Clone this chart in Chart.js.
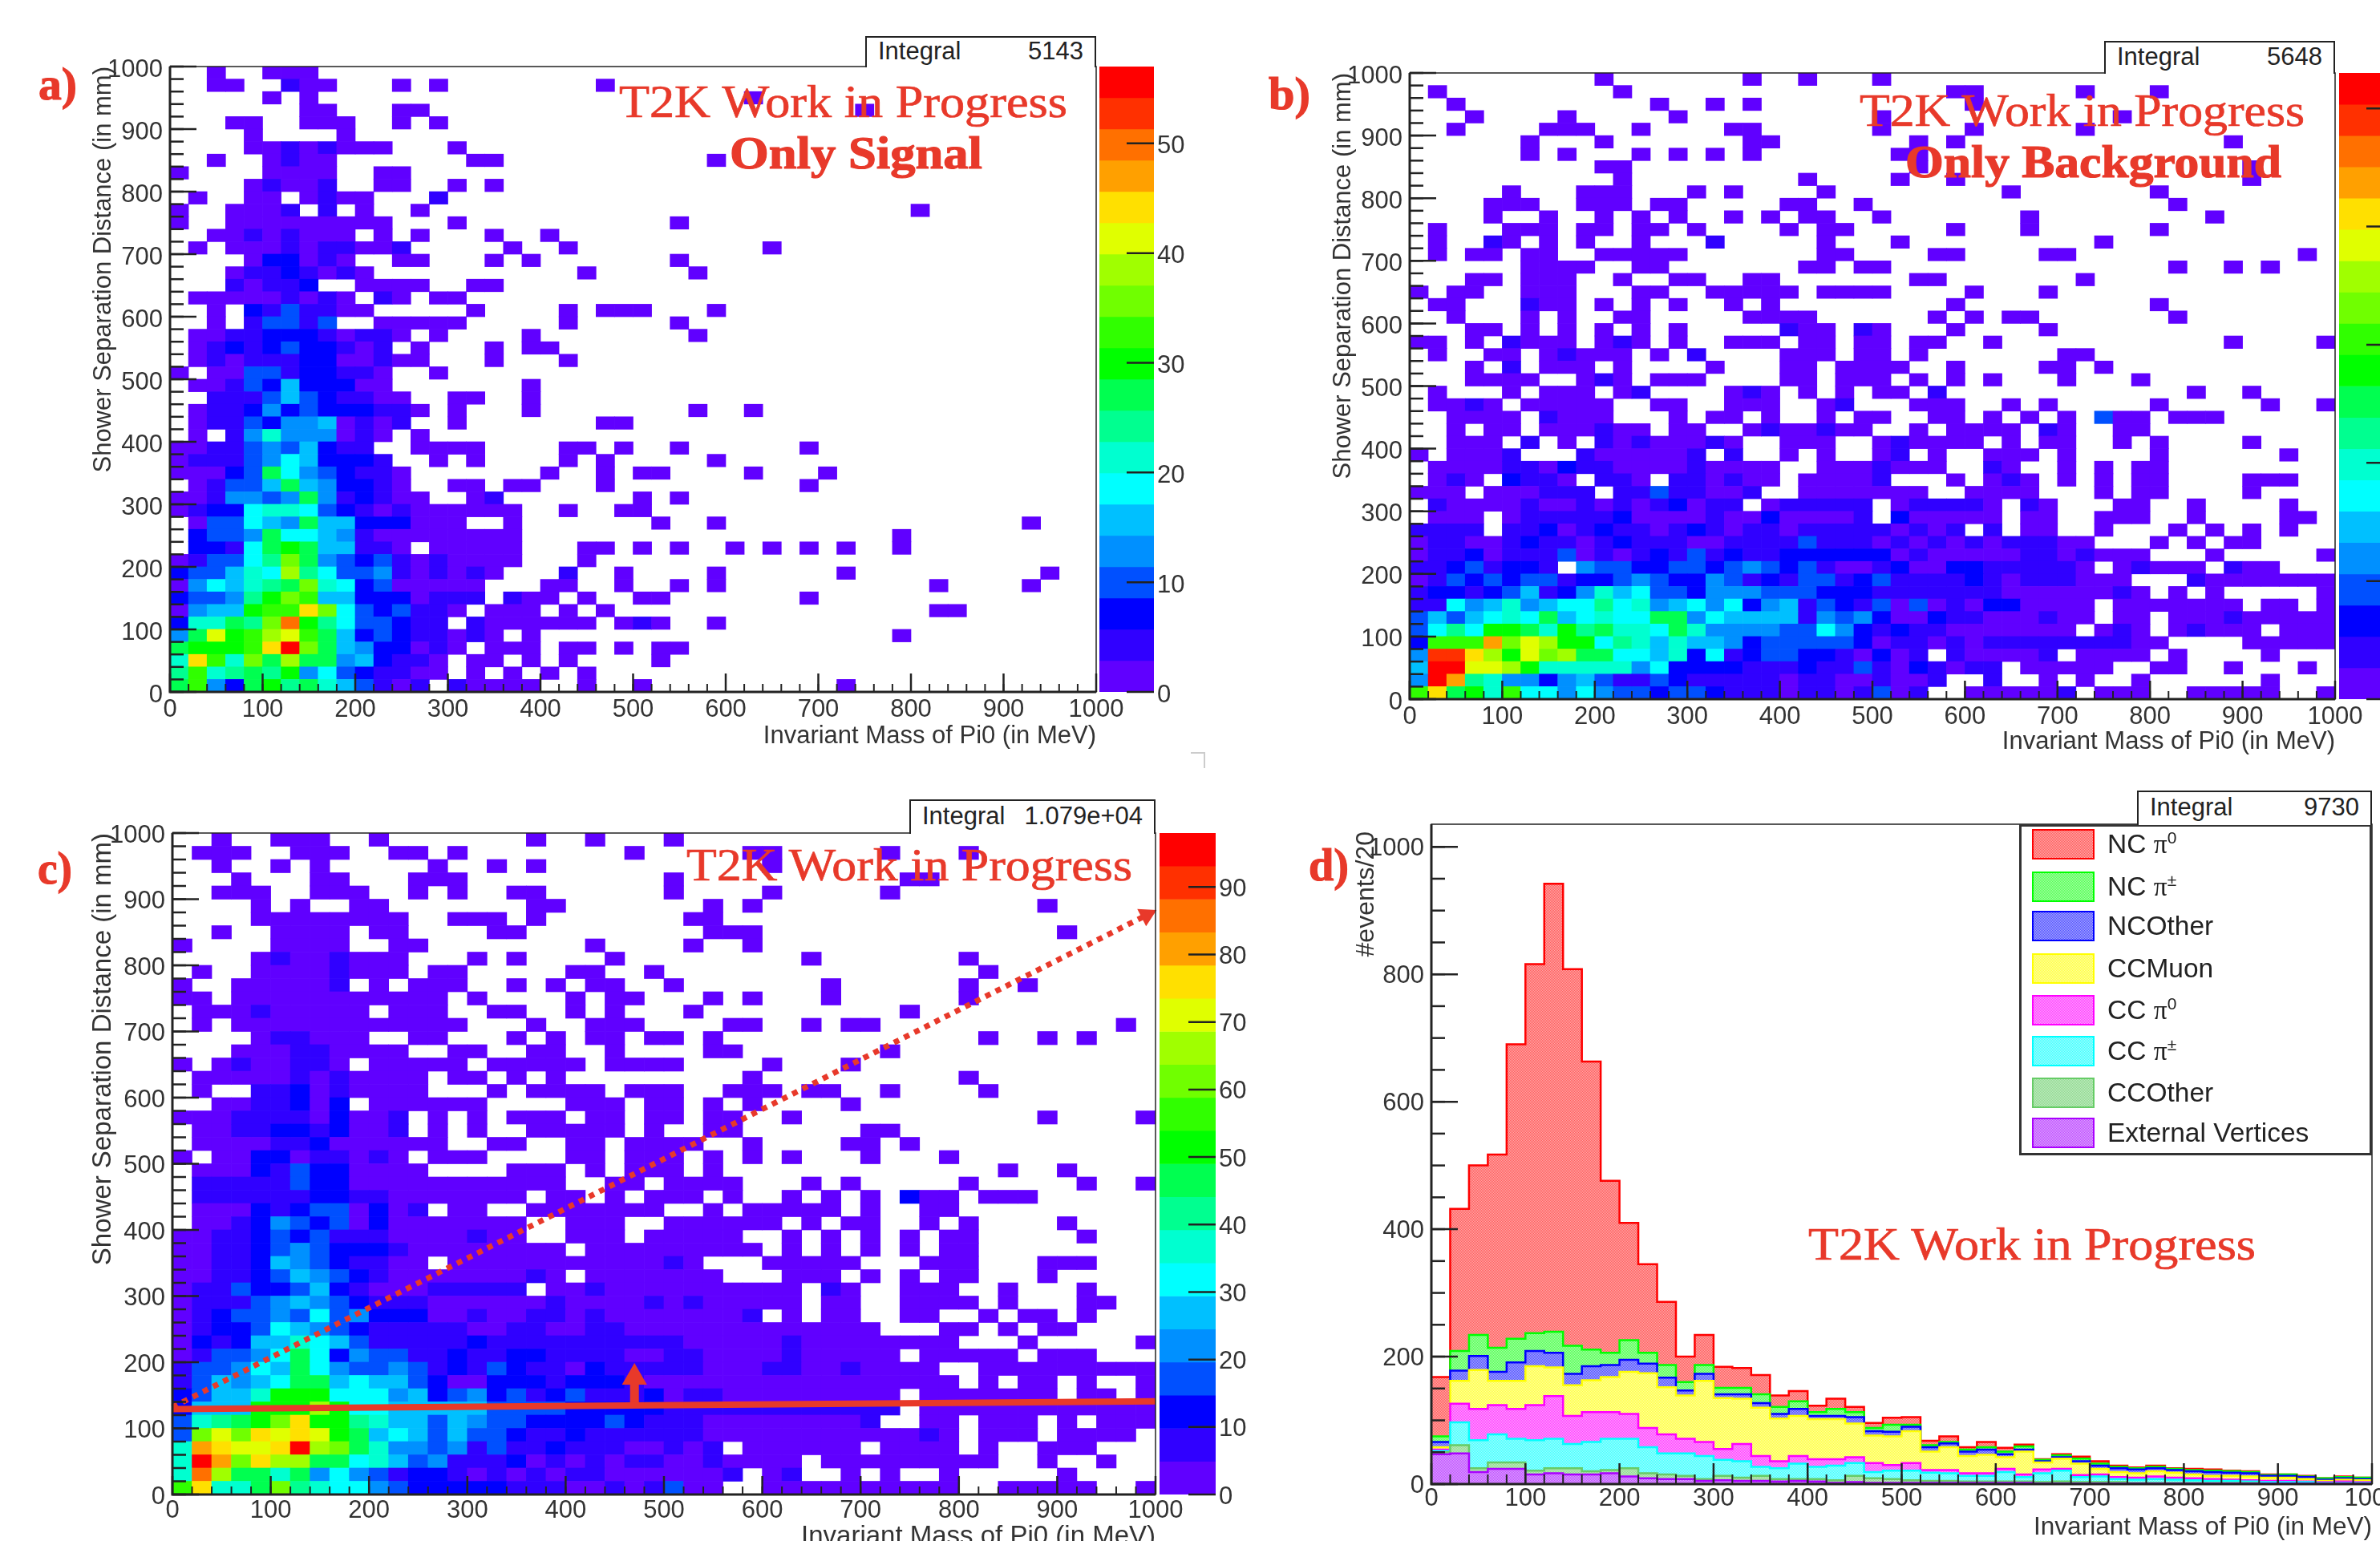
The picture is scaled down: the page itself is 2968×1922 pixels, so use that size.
<!DOCTYPE html>
<html><head><meta charset="utf-8">
<style>
html,body{margin:0;padding:0;background:#fff;width:2968px;height:1922px;overflow:hidden;position:relative}
canvas{position:absolute;filter:blur(0.7px)}
.txt{position:absolute;white-space:nowrap;transform-origin:left center;line-height:1;color:#e8392a;font-family:"Liberation Serif",serif;z-index:5}
.stat{position:absolute;box-sizing:border-box;border:2px solid #222;border-bottom:0;background:#fff;display:flex;justify-content:space-between;align-items:center;padding:0 14px 4px;font:31px "Liberation Sans",sans-serif;color:#222;z-index:4}
.legend{position:absolute;box-sizing:border-box;border:3px solid #333;background:#fff;z-index:4;filter:blur(0.5px)}
.lrow{position:absolute;font:33.5px "Liberation Sans",sans-serif;color:#222;white-space:nowrap;line-height:1}
.lrow sup{font-size:21px;line-height:0}
.lrow i{font-family:"Liberation Serif",serif;font-style:normal}
.sw{position:absolute;box-sizing:border-box;border:2px solid}
</style>
<script src="https://cdn.jsdelivr.net/npm/chart.js@4"></script>
</head><body>
<script>
// --- Colour contour levels of each 2-D histogram, top row (980-1000 mm) first, 50 bins of 20 MeV.
// '.' = empty bin, 0-9 a-j = contour level 0-19
const heatRowsA = [
"..0.. 000..","..00. .100. ..0.0 ..... ...0.","..... 0.0.. ..... ..... ..... ..... .0...","..... ..00. ..00. ..... ..... ..... ..... ..0..",
"...00 ..000 ..0.0","....0 ....0","....0 01010 00... 0....","..0.. 0100. ..... .00.. ..... ....0","0.... 0000. .00..","....0 1001. .00.. 0.0..",
".0..0 0.010 0...1","0..00 01.1. 0..0. ..... ..... ..... ..... ..... 0....","0..00 00000 00... 0.... ..... ..0..","..001 01000 .0.0. ..0.. 0....",
".0.00 01011 001.. ...0. .0... ..... ..0..","....0 22010 ..00. ..0.0 ..... ..0..","...01 12101 0.... ..... ..0.. ...0.","...10 112.. 0000. .00..",
".0000 01010 .10.0 0....","..0.2 13110 0.... .0... .0.00 0...0","..0.1 3313. .0000 0.... .0... ..0..",".0011 22210 110.0 ....0 ..... ...0.",".0121 23221 01.0. ..0.0 0....",
".0101 11220 0100. ..0.. .0...","0.003 31221 10..0",".0013 25222 00... ....0","..111 35321 100.. 00..0",".0112 42322 2110. 0...0 ..... ...0. .0...",".0113 24450 101.. 0.... ...00",
".0.14 74440 10.0.","00113 43521 1..00 00... .00.0 ..0.. ....0","01113 46522 21..0 .0... .0.0. ....0","00023 96432 110.. ..... 0..0. 00... .0... 0....",
".0133 59542 210.. 00.00 ...0. ..... ....0","00144 34941 2100. .01.. ..... 0.0..","01226 77632 10100 0000. .0..0 0....",".0336 54955 22200 0..0. ..... .0..0 ..... ..... ..... .0...",
".2334 96654 10000 0000. ..... ..... ..... ....0",".2216 9a955 110.0 0000. ..00. 0.0.. 0.0.0 .0..0","01336 8c943 23101 0000. ..0..","23357 6d863 34101 010.. .1..0 ....0 ..... .0... ..... ..0..",
"04657 89c76 23000 00... 00..0 ..0.0 ..... ..... .0... .0...","23348 acb55 22201 11.10 0.0.. 00... ....0","0455a bbfc6 32311 0.000 .0.0. ..... ..... ..... .00..",
"27798 cha86 33211 .1000 000.0 10..0","49eab deb95 23211 010.0 ..... ..... ..... ....0","9aaab fjc95 42201 0.000 .00.0 .00..","7fb7c 9d994 52110 .00.0 .0... .0...",
"8b789 8a463 21100 .0.0. 0.0..","9b429 a8975 3101. 10000 ..0.. 0.... ..... .0..."];
const heatRowsB = [
"..... ..... 0.... ...0. .0... 0....",".0... ..... .0... ..... ..... ....0 0.... .0... 0....","..0.. ..... ...0. .0.0. ..... ..... 0....","...0. ...0. ....0 ..... ..... 0.... ..... ...0.",
"..0.. ..000 ..0.. ..00. ..... 0.... 0.... .0...","..... .0... 0.... ...00 ..... ..0.0 ..... ..... ....0","..... .0.0. ..0.0 .0.0. ..... .00..","..... ..... 00... ..... ..... ..0.. ..... ..... ..... 0....",
"..... ..... .0... ..... .0... .0..0 ..... ..... ..... 0....","..... 0...0 00... 0.0.. ..0.. ..... ..0.. ..... 0....","....0 00..0 00.00 ..... 00..0 ..... ..... ..... .0...","....0 ..0.. 0.0.0 ..0.0 .00.. 0.... ...0. ..... ...0.",
".0... 000.0 0.00. 0.... 0.00. ....0 ...0. ..... 0....",".0..1 0.0.0 ..0.. .1... ..0.. .0... ..... ..0..",".0.00 .00.. 00000 ..... ..00. ...00 ....0 0.... ..... ...0.","..... .0000 ..00. ..... .00.0 0.... ..... ..... .0..0 .0...",
"...00 .000. .0..0 0..00 ..... ..00. ..... .0...","0.00. .000. ..00. .0000 0.000 0.... 0...0",".00.. .100. 0.0.0 ..0.0 ..... ....0 ..... ..... 0....","..0.. .0.0. .00.. ...00 00... ...0. 0.00. ..... .0...",
"...00 .0.0. 0.0.0 ..... 100.1 0...0 ....0","00.0. 1000. 010.0 ..000 .00.0 0.00. .0... ..... ....0 ....0",".0..0 0.010 00.0. 1.... 000.0 0.0.. ..... 00...","...0. 1.000 .0... .0... 00.00 00..0 ....0 0.0..",
"...00 00..0 10.00 0.... 00.00 0.0.0 .0... 0...0",".0... 0.000 .01.. ..010 .0.0. 00.1. ..... ..... ..0.. 0....",".0010 .0000 0..00 ..000 ..01. ..000 ..0.0 ..... 0.... .0..0","..000 0.100 0...0 .00.0 ..0.0 0..00 .0.0. 0.300 .000.",
"..0.0 0.000 100.0 0..01 00100 ..0.0 000.1 0..00","..000 .1.0. 10100 010.. 000.. 01000 0.0.0 0..0. 0.... 0....","0.000 1...1 00000 1.1.. 0.0.. 01.0. .000. 0.... 0.... ..0..",".0000 11021 10000 10000 ..000 1000. .10.. 0.0.0 0....",
".010. 2110. 110.1 10100 .0000 1...0 .010. 0.0.0 0.... 000..","000.0 00111 .1131 1001. .0000 000.. 0000. ..0.0 0.... 0....",".1000 01001 01012 011.0 11111 .0111 10.10 ...00 ..0.. ..0..",".000. 01111 12000 01002 00001 .2000 00.00 ..000 ..0.. ..00.",
"1111. 11201 21101 21011 01111 10101 .1.00 ..0.. .0.0. 0.0..","01100 12110 12111 00111 13111 01010 10111 00... 0.0.0 0....","01120 11130 10121 31211 22222 20100 00011 01000 ...0. ....0","11231 221.4 33223 32343 23100 12002 21111 10.01 000.1 00...",
"01323 23312 23432 24312 13312 31111 21011 1000. ..100 00000","12212 35124 75633 24443 33222 11111 11000 00010 .0.0. ....0","11645 74566 86745 64624 51321 30301 02200 00.00 00000 .00.0","35356 76956 76699 46555 51434 20021 10001 00.00 .0001 00000",
"3686a a97a8 97769 74444 33642 12110 00000 0.010 .0100 0.000","2bbbg cedaa 68757 55423 33332 01101 01111 11110 0.... 00000","4iifd aecd9 96657 26123 32210 201.1 00001 .0000 .0... .0...","5jjee da777 77462 22211 12113 10210 11.00 000.. 00..0 ...0.",
"4jg87 44245 31132 11111 01100 1001. .1..0 .0..0 ..... .0...","bf9a7 b6646 43323 32111 01101 301.. 00000 1.000 ..000 00..0"];
const heatRowsC = [
"..0.. 000.. 0.... ...0. .0... 0....",".000. .000. .00.0 ..... ...0. ....0 0.... .0... 0....","..0.. 0.0.. ...0. .0.0. ..... ..... 0....","...0. ..00. ..000 ..... ..... 0.... ..... ..00.",
"..000 ..000 ..0.0 ..00. ..... 0.... 0.... .0...","....0 .0..0 0.... ...00 ..... ..0.0 ..... ..... ....0","....0 00000 00..0 00.0. ..... .00..","..0.. 0000. 00... .00.. ..... ..000 ..... ..... ..... 0....",
"0.... 0000. .00.. ..... .0... .0..0","....0 10010 00... 0.0.. ..0.. ..... ..0.. ..... 0....",".0..0 00010 00.00 ..... 00..0 ..... ..... ..... .0...","0..00 0001. 0.000 ..0.0 .00.. 0.... ...0. ..... 0..0.",
"00.00 00000 0000. 0.... 0.00. ..0.0 ...0. ..... 0....",".0001 00000 .000. .00.. 0.0.. .0... ..... ..0..",".0.00 00000 00000 ...0. .000. ...00 ..0.0 0.... ..... ...0.","....0 11000 ..00. ..0.0 .00.0 0.0.. ..... ..... .0..0 .0...",
"...00 01100 00..0 0..00 ..0.. ..00. ..... .0...","0.010 0110. 00000 .0000 0.000 0.... 0...0",".0000 01010 000.0 0.0.0 ..... ....0 ..... ..... 0....",".0..1 12010 000.. .0.00 00.00 0..00 0.00. .0... .0...",
"..001 1202. 00000 0.... 000.0 0.0.0 ....0","00011 11020 01.0. 0.000 .00.0 0.00. .0... ..... ....0 ....0",".0011 22120 01.0. 0..00 000.0 ..00. ..... 00...",".0000 11200 0000. .00.. 00.00 00..0 ....0 0.0..",
"0.002 20110 10.00 0.... 00.00 0.0.0 .0... 0...0",".0002 13220 000.. ..000 .0.00 0.0.. ..... ..... ..0.. 0....",".1111 13220 00000 00000 ..00. 0000. ..0.0 ..... 0.... .0..0",".1111 11221 10000 000.0 0.0.0 00.0. .0.0. 0.200 .000.",
".0002 12330 201.0 0..00 00000 ..0.0 0000. 0..00",".0012 43230 20000 000.. 000.. 00000 0.0.0 0..0. 0.... 0....","00112 32311 10000 100.. 000.0 0000. .0.0. 0.0.0 0.... .0...","00112 34322 21000 00000 .0000 00000 .0.0. 0.0.0 0....",
"00112 54321 100.0 00000 00000 10... 00000 ...00 0...0 00...","00112 35432 10000 00010 .0000 000.. .000. 0.0.0 0...0","01132 23521 00011 111.0 01000 00000 00.10 ..000 ..0.. .0...","01113 45432 11100 00001 00001 01000 00.00 ..000 0.0.. .00..",
"01233 43634 22200 10011 01000 00001 .0.00 ..00. .0.00 .0...","01223 65432 11111 00110 01100 00000 00000 0...0 0.0.0 0....","02125 57653 11111 21111 11111 10000 01000 00000 ...0. ....0","01334 69624 33112 11221 11100 11000 01000 00.00 000.0 00...",
"13346 59643 34312 13211 02111 11000 11001 0000. .0000 00000","13545 69956 55320 02221 22210 00000 00000 00000 .0.00 .0..0","23557 aaa66 64523 42312 31112 01100 00000 00.00 00000 .00.0","2555a aada6 65555 53333 22222 11111 11111 11.00 00000 00000",
"3789a cfaa8 75535 43322 22321 11000 00000 1..00 .000. 0.000","3cecf efea9 56535 33211 21111 11000 00000 00010 .000. 0000.","7gfee fjdc9 74434 13112 11100 101.0 00000 .0000 .0..0 00...","7jgcf dd996 75341 11201 01011 00100 00.00 00000 00..0 ..0..",
"7hd99 79464 31221 01010 11000 0001. 01..0 .0..0 ..... 0....","bf779 c8766 43222 22111 00101 300.. 00000 00000 ..000 00..0"];

// Scale maxima of the three colour bars
const heatMaxA = 57, heatMaxB = 53, heatMaxC = 98;
const contourColors = ["#6000ff","#3000ff","#0000ff","#0050ff","#0090ff","#00c0ff","#00ffff","#00ffd0","#00ff90","#00ff50","#00ff00","#30ff00","#70ff00","#a0ff00","#e0ff00","#ffe000","#ffa000","#ff7000","#ff3000","#ff0000"];

// --- Stacked histogram d): cumulative top of each component, 50 bins of 20 MeV
const stackNCpi0   = [168,432,500,517,690,816,942,808,663,476,410,345,286,200,234,184,182,171,139,146,123,134,121,96,104,105,68,75,58,66,57,62,39,47,43,36,29,26,29,25,24,23,21,20,15,15,13,9,12,10];
const stackNCpipm  = [75,209,234,214,228,237,239,217,211,206,226,206,187,160,187,151,151,141,121,130,113,118,113,88,93,93,61,66,54,58,51,59,38,45,40,32,27,25,27,24,22,21,20,19,14,15,12,9,11,10];
const stackNCOther = [66,178,201,176,191,209,206,173,185,187,195,189,167,147,173,141,141,127,110,118,107,107,105,83,82,90,58,64,51,54,47,54,36,42,36,29,25,23,25,22,20,19,18,17,13,13,11,7,9,8];
const stackCCMuon  = [58,162,179,162,162,185,183,155,163,168,176,174,152,139,162,135,134,120,103,107,102,102,95,76,75,83,51,58,44,46,42,51,34,40,32,24,19,17,20,18,15,13,13,12,10,10,8,5,7,6];
const stackCCpi0   = [54,126,118,124,118,124,138,107,113,113,110,88,78,71,66,55,63,44,36,44,39,39,42,33,30,33,22,22,17,17,24,15,23,24,14,15,11,10,12,10,9,8,7,6,5,5,4,3,4,3];
const stackCCpipm  = [52,97,69,78,71,69,71,63,66,71,71,58,48,48,44,38,36,27,25,32,27,29,33,19,21,21,18,17,13,13,19,11,17,21,11,12,8,7,8,7,6,5,5,4,3,3,3,2,2,2];
const stackCCOther = [50,61,25,34,34,21,25,25,20,22,25,17,15,13,8,13,10,13,8,8,8,6,13,9,8,6,5,5,4,4,4,4,3,4,3,3,3,2,2,2,2,2,2,2,1,1,1,1,1,1];
const stackExtVert = [47,48,19,24,24,15,17,15,15,17,12,9,8,8,5,6,5,5,4,5,4,2,3,2,2,2,2,2,2,2,2,2,1,1,1,1,1,1,1,1,1,1,1,1,1,1,1,1,1,1];

// Cut lines drawn on panel c), in axis units
const cutFlat   = [[0,129],[1000,141]];
const cutSlope  = [[0,132],[991,876]];
const cutArrow  = [[470,135],[470,177]];

const massTitle = "Invariant Mass of Pi0 (in MeV)";
const sepTitle  = "Shower Separation Distance (in mm)";
const eventsTitle = "#events/20 ";
const wipText = "T2K Work in Progress";

const RED = "#e8392a", INK = "#333";
const sans = s => ({family:"'Liberation Sans',sans-serif", size:s});
const plainTick = v => String(v);
const multiplesOf = step => s => { const t=[]; for(let v=0;v<=s.max+1e-6;v+=step) t.push({value:v}); s.ticks=t; };

const rootAxes = {
  id:"rootAxes",
  beforeDraw(chart,args,o){
    const s=chart.scales.y;
    if(o.labelDy) s.getLabelItems().forEach(it=>{ it.options.translation=[it.options.translation[0],it.options.translation[1]+o.labelDy]; });
  },
  afterDatasetsDraw(chart,args,o){
    const {ctx,chartArea:a,scales} = chart;
    ctx.save(); ctx.strokeStyle="#222";
    const vert=(vals,len,w)=>{ctx.lineWidth=w;vals.forEach(v=>{const p=scales.x.getPixelForValue(v);ctx.beginPath();ctx.moveTo(p,a.bottom);ctx.lineTo(p,a.bottom-len);ctx.stroke();});};
    const hor=(vals,len,w)=>{ctx.lineWidth=w;vals.forEach(v=>{const p=scales.y.getPixelForValue(v);ctx.beginPath();
      if(o.rightTicks){ctx.moveTo(a.right,p);ctx.lineTo(a.right-len,p);} else {ctx.moveTo(a.left,p);ctx.lineTo(a.left+len,p);} ctx.stroke();});};
    const range=(step,max)=>{const r=[];for(let v=0;v<=max+1e-6;v+=step)r.push(v);return r;};
    if(o.rightTicks){ hor(range(10,scales.y.max),o.barTick,2.5); ctx.restore(); return; }
    vert(range(20,1000),o.xMinorLen,2); vert(range(100,1000),o.xMajorLen,2.5);
    hor(range(o.yMinor,scales.y.max),17,2.5); hor(range(o.yMajor,scales.y.max),33,2.5);
    ctx.strokeStyle="#222"; ctx.lineWidth=1.5; ctx.strokeRect(a.left,a.top,a.right-a.left,a.bottom-a.top);
    ctx.lineWidth=3; ctx.beginPath(); ctx.moveTo(a.left,a.top); ctx.lineTo(a.left,a.bottom); ctx.lineTo(a.right,a.bottom); ctx.stroke();
    ctx.restore();
  }
};

function addCanvas(left,top,w,h){
  const c=document.createElement("canvas"); c.width=w;c.height=h;
  c.style.left=left+"px";c.style.top=top+"px";c.style.width=w+"px";c.style.height=h+"px";
  document.body.appendChild(c); return c;
}
const levelOf=(v,max)=>Math.min(19,Math.floor(v/max*20));

function cellsOf(rows,max){
  const cells=[];
  rows.forEach((row,ri)=>{
    const bins=row.replace(/ /g,"").padEnd(50,".");
    for(let i=0;i<50;i++){
      if(bins[i]===".")continue;
      const lvl=parseInt(bins[i],36);
      const yBin=49-ri;
      cells.push({x:i*20+10,y:[yBin*20,yBin*20+20],v:(lvl+.5)*max/20});
    }
  });
  return cells;
}

function axes(xTitle,yTitle,yMax,yStep,xTitlePad,yTitlePad,yWidth,xTickPad,yFont,xFont){
  return {
    x:{type:"linear",min:0,max:1000,offset:false,grid:{display:false,drawTicks:false,offset:false},border:{display:false},
       afterBuildTicks:multiplesOf(100),
       ticks:{callback:plainTick,autoSkip:false,maxRotation:0,minRotation:0,padding:xTickPad,color:INK,font:sans(31)},
       title:{display:true,text:xTitle,align:"end",color:INK,font:sans(xFont),padding:{top:0,bottom:xTitlePad}},
       afterFit(s){s.height=75;s.paddingLeft=0;s.paddingRight=0;}},
    y:{type:"linear",min:0,max:yMax,grid:{display:false,drawTicks:false},border:{display:false},
       afterBuildTicks:multiplesOf(yStep),
       ticks:{callback:plainTick,autoSkip:false,padding:9,color:INK,font:sans(31)},
       title:{display:true,text:yTitle,align:"end",color:INK,font:sans(yFont),padding:{top:yTitlePad,bottom:0}},
       afterFit(s){s.width=yWidth;s.paddingTop=0;s.paddingBottom=0;}}
  };
}

function heatPanel(p,rows,max,extra){
  const cells=cellsOf(rows,max);
  const yW=110, padR=50, padT=20;
  const cv=addCanvas(p.L-yW,p.T-padT,(p.R-p.L)+yW+padR,(p.B-p.T)+padT+75);
  new Chart(cv,{type:"bar",plugins:[rootAxes],
    data:{datasets:[{data:cells,backgroundColor:cells.map(c=>contourColors[levelOf(c.v,max)]),barPercentage:1,categoryPercentage:1,grouped:false,borderWidth:0,order:2}].concat(extra||[])},
    options:{responsive:false,animation:false,layout:{padding:{left:0,top:padT,right:padR,bottom:0}},
      scales:axes(massTitle,sepTitle,1000,100,p.xPad,p.yPad,yW,p.tickPad,p.titleFont,p.titleFont),
      plugins:{legend:{display:false},tooltip:{enabled:false},rootAxes:{xMinorLen:10,xMajorLen:23,yMinor:20,yMajor:100,labelDy:p.dy}}}});
  // colour bar
  const bands=contourColors.map((col,i)=>({x:"z",y:[i*max/20,(i+1)*max/20]}));
  const barW=p.cbR-p.cbL;
  const cb=addCanvas(p.cbL,p.T-padT,barW+80,(p.B-p.T)+2*padT);
  new Chart(cb,{type:"bar",plugins:[rootAxes],
    data:{labels:["z"],datasets:[{data:bands,backgroundColor:contourColors,barPercentage:1,categoryPercentage:1,grouped:false,borderWidth:0}]},
    options:{responsive:false,animation:false,layout:{padding:{top:padT,bottom:padT,left:0,right:0}},
      scales:{x:{type:"category",labels:["z"],offset:true,display:false},
        y:{type:"linear",position:"right",min:0,max:max,grid:{display:false,drawTicks:false},border:{display:false},
           afterBuildTicks:multiplesOf(10),
           ticks:{callback:plainTick,padding:4,color:INK,font:sans(31)},afterFit(s){s.width=80;s.paddingTop=0;s.paddingBottom=0;}}},
      plugins:{legend:{display:false},tooltip:{enabled:false},rootAxes:{rightTicks:true,barTick:34,labelDy:p.dy}}}});
}

const xy=a=>a.map(d=>({x:d[0],y:d[1]}));
const cutSets=[
  {type:"line",data:xy(cutFlat),borderColor:RED,borderWidth:8,pointRadius:0,order:0,clip:12},
  {type:"line",data:xy(cutSlope),borderColor:RED,borderWidth:7,borderDash:[7,7.2],pointStyle:"triangle",pointRadius:[0,14],pointRotation:63,pointBackgroundColor:RED,pointBorderColor:RED,pointBorderWidth:0,order:0,clip:30},
  {type:"line",data:xy(cutArrow),borderColor:RED,borderWidth:11,pointStyle:"triangle",pointRadius:[0,18],pointBackgroundColor:RED,pointBorderColor:RED,pointBorderWidth:0,order:0,clip:30}
];

heatPanel({L:212,R:1367,T:83,B:863,cbL:1371,cbR:1439,xPad:1,yPad:9,tickPad:4,dy:4,titleFont:31},heatRowsA,heatMaxA);
heatPanel({L:1758,R:2912,T:91,B:872,cbL:2917,cbR:2985,xPad:3,yPad:9,tickPad:4,dy:4,titleFont:31},heatRowsB,heatMaxB);
heatPanel({L:215,R:1441,T:1039,B:1864,cbL:1446,cbR:1516,xPad:2,yPad:4,tickPad:2,dy:3,titleFont:33},heatRowsC,heatMaxC,cutSets);

// --- Panel d)
function dotted(pure,pale){
  const c=document.createElement("canvas");c.width=2;c.height=2;const g=c.getContext("2d");
  g.fillStyle=pure;g.fillRect(0,0,2,2);g.fillStyle=pale;g.fillRect(0,0,1,1);g.fillRect(1,1,1,1);return c;
}
const stackSeries=[
 {name:"External Vertices",top:stackExtVert,line:"#aa00ff",a:"#c050ff",b:"#dca0ff"},
 {name:"CCOther",top:stackCCOther,line:"#66cc66",a:"#90d890",b:"#c0ecc0"},
 {name:"CC pi+-",top:stackCCpipm,line:"#00ffff",a:"#40ffff",b:"#a0ffff"},
 {name:"CC pi0",top:stackCCpi0,line:"#ff00ff",a:"#ff40ff",b:"#ffa0ff"},
 {name:"CCMuon",top:stackCCMuon,line:"#ffff00",a:"#ffff40",b:"#ffffa0"},
 {name:"NCOther",top:stackNCOther,line:"#0000ff",a:"#5050ff",b:"#a8a8ff"},
 {name:"NC pi+-",top:stackNCpipm,line:"#00ff00",a:"#50ff50",b:"#a8ffa8"},
 {name:"NC pi0",top:stackNCpi0,line:"#ff0000",a:"#ff5a5a",b:"#ffaaaa"}
];
(function(){
  const L=1785,R=2958,T=1028,B=1851,yW=100,padR=60,padT=20;
  const cv=addCanvas(L-yW,T-padT,(R-L)+yW+padR,(B-T)+padT+75);
  const g=cv.getContext("2d");
  const ds=stackSeries.map(s=>({label:s.name,
     data:s.top.map((v,i)=>({x:i*20,y:v})).concat([{x:1000,y:s.top[49]}]),
     stepped:"before",fill:"origin",borderColor:s.line,borderWidth:2.5,pointRadius:0,
     backgroundColor:g.createPattern(dotted(s.a,s.b),"repeat")}));
  new Chart(cv,{type:"line",plugins:[rootAxes],data:{datasets:ds},
    options:{responsive:false,animation:false,layout:{padding:{left:0,top:padT,right:padR,bottom:0}},
      scales:axes(massTitle,eventsTitle,1035.5,200,2,0,yW,0,32,31.5),
      plugins:{legend:{display:false},tooltip:{enabled:false},rootAxes:{xMinorLen:12,xMajorLen:26,yMinor:50,yMajor:200,labelDy:2}}}});
  // legend box
  const lg=document.createElement("div");lg.className="legend";
  Object.assign(lg.style,{left:"2518px",top:"1028px",width:"440px",height:"413px"});document.body.appendChild(lg);
  const pi=`<i>&pi;</i>`;
  const items=[["NC "+pi+"<sup>0</sup>",7],["NC "+pi+"<sup>&plusmn;</sup>",6],["NCOther",5],["CCMuon",4],["CC "+pi+"<sup>0</sup>",3],["CC "+pi+"<sup>&plusmn;</sup>",2],["CCOther",1],["External Vertices",0]];
  const tops=[1034,1087,1136,1189,1241,1292,1344,1394];
  items.forEach((it,i)=>{
    const s=stackSeries[it[1]];
    const sw=document.createElement("div");sw.className="sw";
    const url=dotted(s.a,s.b).toDataURL();
    Object.assign(sw.style,{left:(2534-2521)+"px",top:(tops[i]-1031)+"px",width:"78px",height:"38px",borderColor:s.line,backgroundImage:`url(${url})`});
    lg.appendChild(sw);
    const t=document.createElement("div");t.className="lrow";t.innerHTML=it[0];
    Object.assign(t.style,{left:(2628-2521)+"px",top:(tops[i]-1031+2)+"px"});lg.appendChild(t);
  });
})();

// --- Boxes and annotations
function stat(l,t,r,b,val){
  const d=document.createElement("div");d.className="stat";
  Object.assign(d.style,{left:l+"px",top:t+"px",width:(r-l)+"px",height:(b-t)+"px"});
  d.innerHTML=`<span>Integral</span><span>${val}</span>`;document.body.appendChild(d);
}
stat(1079,45,1367,84,"5143");
stat(2624,51,2912,92,"5648");
stat(1134,997,1441,1040,"1.079e+04");
stat(2665,986,2958,1029,"9730");

function label(text,x0,x1,yc,size,weight){
  const s=document.createElement("div");s.className="txt";s.textContent=text;
  s.style.fontSize=size+"px";s.style.fontWeight=weight;s.style.left=x0+"px";s.style.top=(yc-size/2)+"px";
  document.body.appendChild(s);
  const k=(x1-x0)/s.getBoundingClientRect().width;
  s.style.transform=`scaleX(${k})`;
  s.style.webkitTextStroke=(weight==="normal"?"0.7px ":"1.2px ")+RED;
}
label(wipText,772,1331,127,58,"normal");
label(wipText,2319,2874,138,58,"normal");
label(wipText,856,1412,1079,58,"normal");
label(wipText,2255,2813,1552,58,"normal");
label("Only Signal",910,1225,191,58,"bold");
label("Only Background",2376,2845,202,58,"bold");
label("a)",48,96,105,58,"bold");
label("b)",1582,1634,117,58,"bold");
label("c)",47,90,1083,58,"bold");
label("d)",1632,1682,1079,58,"bold");

const mark=document.createElement("div");
Object.assign(mark.style,{position:"absolute",left:"1485px",top:"938px",width:"16px",height:"18px",borderTop:"2px solid #ccc",borderRight:"2px solid #ccc"});
document.body.appendChild(mark);
</script>
</body></html>
